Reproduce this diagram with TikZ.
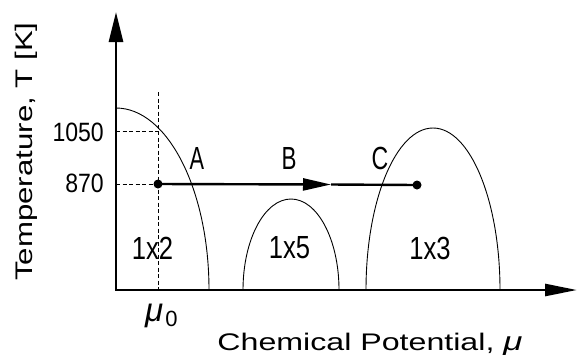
\documentclass[tikz,border=0pt]{standalone}
\usepackage{fontspec}
\setmainfont{Liberation Sans}
\usetikzlibrary{arrows.meta}
\tikzset{
  axis/.style={line width=2.6pt, line join=miter},
  curve/.style={line width=0.9pt},
  guide/.style={line width=0.8pt, dash pattern=on 4pt off 2.5pt},
  path/.style={line width=2.4pt},
  dot/.style={circle, fill=black, inner sep=0pt, minimum size=9pt},
  num/.style={inner sep=0pt, font=\fontsize{26.5}{28}\selectfont},
  big/.style={inner sep=0pt, font=\fontsize{32}{34}\selectfont},
  axlbl/.style={inner sep=0pt, font=\fontsize{24}{26}\selectfont},
}
\begin{document}
\begin{tikzpicture}[x=1pt,y=-1pt]
\useasboundingbox (0,0) rectangle (577,360);
% axes
\coordinate (O) at (116,290);
\coordinate (ytip) at (116,12);
\coordinate (xtip) at (577,290);
\draw[axis, {Triangle[length=30pt,width=14pt]}-{Triangle[length=32pt,width=12pt]}] (ytip) -- (O) -- (xtip);
% guides
\coordinate (y1050) at (116,131);
\coordinate (y870) at (116,184);
\coordinate (mu0top) at (158,92);
\coordinate (mu0bot) at (158,290);
\coordinate (g1050) at (158,131);
\node[dot] (start) at (158,184) {};
\node[dot] (stop) at (417,185) {};
\draw[guide] (y1050) -- (g1050);
\draw[guide] (y870) -- (start.center);
\draw[guide] (mu0top) -- (mu0bot);
% phase boundaries
\coordinate (c2top) at (116,108);
\draw[curve] (c2top) arc[start angle=90, end angle=0, x radius=93pt, y radius=182pt];
\coordinate (c5l) at (243,290);
\draw[curve] (c5l) arc[start angle=180, end angle=0, x radius=48pt, y radius=91pt];
\coordinate (c3l) at (366,290);
\draw[curve] (c3l) arc[start angle=180, end angle=0, x radius=67pt, y radius=162pt];
% path with arrow
\coordinate (mid) at (331,184.5);
\draw[path, -{Triangle[length=28pt,width=12pt]}] (start.center) -- (mid);
\draw[path] (mid) -- (stop.center);
% labels
\node[num, anchor=east] (t1050) at (104,132.5) {\scalebox{0.87}[1]{1050}};
\node[num, anchor=east] (t870) at (104,183) {\scalebox{0.87}[1]{870}};
\node[big] (A) at (197,158.5) {\scalebox{0.68}[1]{A}};
\node[big] (B) at (289,158.5) {\scalebox{0.7}[1]{B}};
\node[big] (C) at (380,158.5) {\scalebox{0.72}[1]{C}};
\node[big] (p12) at (152.5,248) {\scalebox{0.8}[1]{1x2}};
\node[big] (p15) at (289.5,248) {\scalebox{0.8}[1]{1x5}};
\node[big] (p13) at (430,248) {\scalebox{0.8}[1]{1x3}};
\node[inner sep=0pt, anchor=base west] (mu0) at (145,321) {\fontsize{33}{33}\selectfont\itshape μ\kern2pt\upshape\raisebox{-5pt}{\fontsize{22}{22}\selectfont 0}};
\node[axlbl] (xlab) at (370,344) {\scalebox{1.34}[1]{Chemical Potential, {\itshape\fontsize{26}{26}\selectfont μ}}};
\node[axlbl, rotate=90] (ylab) at (26,151.5) {\scalebox{1.3}[1]{Temperature, T [K]}};
\end{tikzpicture}
\end{document}
